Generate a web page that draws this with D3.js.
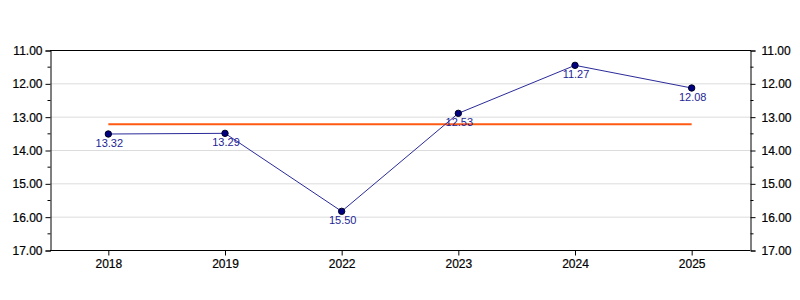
<!DOCTYPE html>
<html>
<head>
<meta charset="utf-8">
<script src="https://cdn.jsdelivr.net/npm/d3@7"></script>
<style>
  body { margin: 0; background: #fff; }
  svg text { font-family: "Liberation Sans", Arial, sans-serif; }
</style>
</head>
<body>
<svg width="800" height="300"></svg>
<script>
// categories and values
var years = ["2018", "2019", "2022", "2023", "2024", "2025"];
var values = [13.52, 13.50, 15.84, 12.90, 11.46, 12.14];   // plotted positions
var labels = ["13.32", "13.29", "15.50", "12.53", "11.27", "12.08"];  // texts shown
var avgValue = 13.23;
var yTicks = [11, 12, 13, 14, 15, 16, 17];

var svg = d3.select("svg");

var plotLeft = 50, plotRight = 750, plotTop = 50, plotBottom = 250;

var xScale = d3.scalePoint()
    .domain(years)
    .range([plotLeft, plotRight])
    .padding(0.5);

var yScale = d3.scaleLinear()
    .domain([11, 17])
    .range([plotTop, plotBottom]);

// grid
svg.append("g")
    .selectAll("line")
    .data(yTicks.slice(1, -1))
    .enter()
    .append("line")
    .attr("x1", plotLeft)
    .attr("x2", plotRight)
    .attr("y1", d => yScale(d) + 0.5)
    .attr("y2", d => yScale(d) + 0.5)
    .attr("stroke", "#dcdcdc")
    .attr("stroke-width", 1);

// minor ticks
var minor = d3.range(11.5, 17, 1);

// left axis
var yLeft = svg.append("g")
    .attr("transform", "translate(" + (plotLeft + 0.5) + ",0.5)")
    .call(d3.axisLeft(yScale).tickValues(yTicks).tickFormat(d3.format(".2f")).tickSize(5).tickPadding(3));
yLeft.selectAll(".minor")
    .data(minor)
    .enter()
    .append("line")
    .attr("x1", -3).attr("x2", 0)
    .attr("y1", d => yScale(d)).attr("y2", d => yScale(d))
    .attr("stroke", "#000");

// right axis
var yRight = svg.append("g")
    .attr("transform", "translate(" + (plotRight + 0.5) + ",0.5)")
    .call(d3.axisRight(yScale).tickValues(yTicks).tickFormat(d3.format(".2f")).tickSize(5).tickPadding(6));
yRight.selectAll(".minor")
    .data(minor)
    .enter()
    .append("line")
    .attr("x1", 0).attr("x2", 3)
    .attr("y1", d => yScale(d)).attr("y2", d => yScale(d))
    .attr("stroke", "#000");

// bottom axis
var xAxis = svg.append("g")
    .attr("transform", "translate(0," + (plotBottom + 0.5) + ")")
    .call(d3.axisBottom(xScale).tickSize(5).tickPadding(4));
xAxis.select(".domain").attr("d", "M" + plotLeft + ",0H" + plotRight);

// top border
svg.append("line")
    .attr("x1", plotLeft).attr("x2", plotRight + 1)
    .attr("y1", plotTop + 0.5).attr("y2", plotTop + 0.5)
    .attr("stroke", "#000");

svg.selectAll(".tick text")
    .style("font-size", "12px")
    .attr("fill", "#000")
    .attr("stroke", "#000")
    .attr("stroke-width", 0.2);

// average line
svg.append("line")
    .attr("x1", xScale(years[0]))
    .attr("x2", xScale(years[years.length - 1]))
    .attr("y1", yScale(avgValue))
    .attr("y2", yScale(avgValue))
    .attr("stroke", "#ff5a14")
    .attr("stroke-width", 2);

// series line
var line = d3.line()
    .x((d, i) => xScale(years[i]))
    .y(d => yScale(d));

svg.append("path")
    .datum(values)
    .attr("d", line)
    .attr("fill", "none")
    .attr("stroke", "#2a2a9a")
    .attr("stroke-width", 1);

svg.selectAll("circle.pt")
    .data(values)
    .enter()
    .append("circle")
    .attr("class", "pt")
    .attr("cx", (d, i) => xScale(years[i]))
    .attr("cy", d => yScale(d))
    .attr("r", 3.2)
    .attr("fill", "#000080")
    .attr("stroke", "#000022")
    .attr("stroke-width", 1);

svg.selectAll("text.lbl")
    .data(values)
    .enter()
    .append("text")
    .attr("class", "lbl")
    .attr("x", (d, i) => xScale(years[i]) + 1)
    .attr("y", d => yScale(d) + 13)
    .attr("text-anchor", "middle")
    .style("font-size", "11px")
    .attr("fill", "#1e1e96")
    .text((d, i) => labels[i]);
</script>
</body>
</html>
